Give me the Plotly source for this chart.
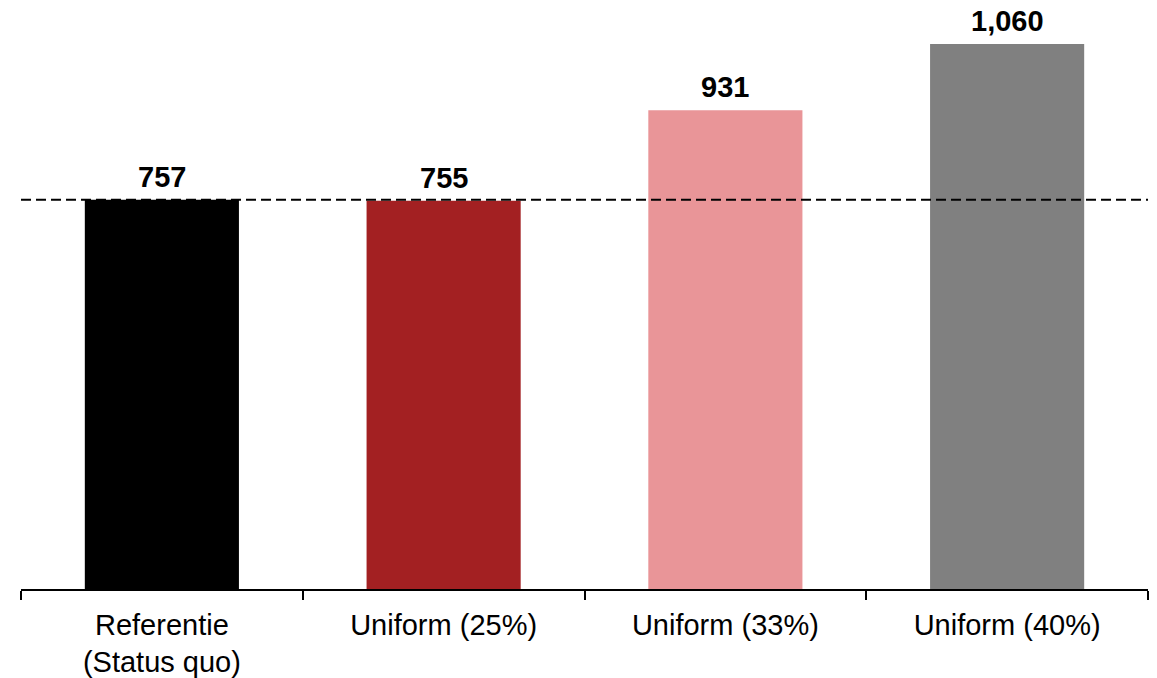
import plotly.graph_objects as go

categories = ["Referentie<br>(Status quo)", "Uniform (25%)", "Uniform (33%)", "Uniform (40%)"]
values = [757, 755, 931, 1060]
colors = ["#000000", "#A32022", "#E99598", "#808080"]
reference_value = 757

FONT = "Arial, Liberation Sans, sans-serif"

fig = go.Figure()
fig.add_trace(go.Bar(
    x=categories,
    y=values,
    marker=dict(color=colors, line=dict(width=0)),
    hoverinfo="skip",
))

for c, v in zip(categories, values):
    fig.add_annotation(
        x=c, y=v, xref="x", yref="y",
        text=f"<b>{v:,}</b>", showarrow=False,
        yanchor="bottom", yshift=5,
        font=dict(family=FONT, size=29, color="black"),
    )

fig.add_shape(type="line", xref="paper", yref="y", x0=0, x1=1,
              y0=reference_value, y1=reference_value,
              line=dict(color="black", width=2, dash="10px,5px"))

fig.update_layout(
    width=1157, height=678,
    margin=dict(l=21, r=9, t=20, b=89),
    plot_bgcolor="white", paper_bgcolor="white",
    bargap=0.453,
    showlegend=False,
    font=dict(family=FONT, size=29, color="black"),
)
fig.update_xaxes(
    automargin=False,
    showline=True, linecolor="black", linewidth=1.5,
    ticks="outside", tickson="boundaries", ticklen=9, tickcolor="black", tickwidth=1.5,
    tickfont=dict(family=FONT, size=29, color="black"),
    ticklabelstandoff=9,
    showgrid=False,
)
fig.update_yaxes(
    automargin=False,
    range=[0, 1106.6], visible=False, showgrid=False, zeroline=False,
)

fig.write_html("out.html", config={"displayModeBar": False},
               post_script="document.body.style.margin='0';")
